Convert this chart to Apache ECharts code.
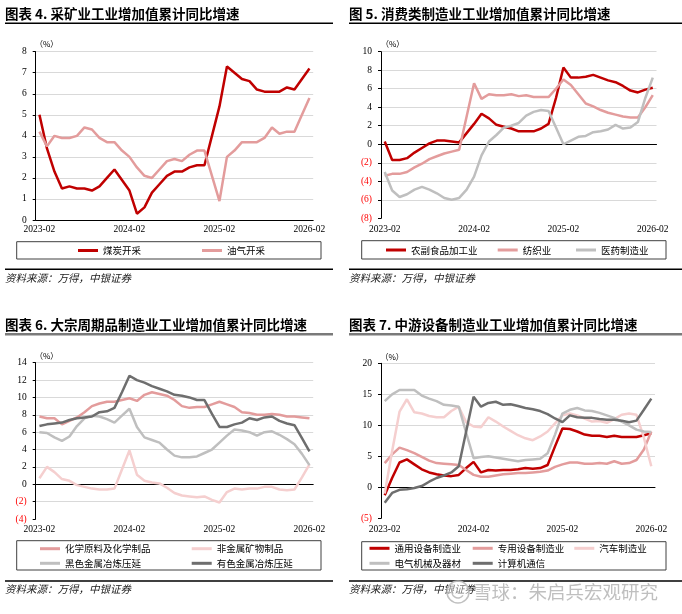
<!DOCTYPE html>
<html><head><meta charset="utf-8">
<script src="https://cdn.jsdelivr.net/npm/echarts@6/dist/echarts.min.js"></script>
<style>html,body{margin:0;padding:0;background:#fff}#c{width:682px;height:614px}</style>
</head><body><div id="c"></div>
<script>
// ---------- data ----------
const months = ['2023-02','2023-03','2023-04','2023-05','2023-06','2023-07','2023-08','2023-09','2023-10','2023-11','2023-12','2024-01',
 '2024-02','2024-03','2024-04','2024-05','2024-06','2024-07','2024-08','2024-09','2024-10','2024-11','2024-12','2025-01',
 '2025-02','2025-03','2025-04','2025-05','2025-06','2025-07','2025-08','2025-09','2025-10','2025-11','2025-12','2026-01','2026-02'];

// 图表4
const coal = [5.0,3.4,2.3,1.5,1.6,1.5,1.5,1.4,1.6,2.0,2.4,1.9,1.4,0.3,0.6,1.3,1.7,2.1,2.3,2.3,2.5,2.6,2.6,4.0,5.4,7.3,7.0,6.7,6.6,6.2,6.1,6.1,6.1,6.3,6.2,6.7,7.2];
const oilgas = [4.2,3.5,4.0,3.9,3.9,4.0,4.4,4.3,3.9,3.7,3.7,3.3,3.0,2.5,2.1,2.0,2.4,2.8,2.9,2.8,3.1,3.3,3.3,2.1,0.9,3.0,3.3,3.7,3.7,3.7,3.9,4.4,4.1,4.2,4.2,5.0,5.8];
// 图5
const food = [0.3,-1.7,-1.7,-1.5,-0.9,-0.4,0.1,0.4,0.4,0.3,0.2,1.2,2.2,3.3,2.8,2.1,1.9,1.7,1.4,1.4,1.4,1.7,2.2,5.0,8.3,7.2,7.2,7.3,7.5,7.2,6.9,6.7,6.3,5.8,5.6,5.9,6.1];
const textile = [-3.4,-3.2,-3.2,-3.0,-2.5,-2.1,-1.6,-1.3,-1.0,-0.8,-0.6,3.0,6.6,4.9,5.4,5.3,5.3,5.4,5.2,5.3,5.1,5.1,5.1,6.0,7.0,6.4,5.4,4.4,4.1,3.7,3.4,3.2,3.0,2.9,2.9,4.0,5.3];
const pharma = [-3.0,-5.0,-5.7,-5.4,-4.9,-4.6,-4.9,-5.3,-5.8,-6.0,-5.8,-4.9,-3.5,-1.2,0.3,1.0,1.8,2.0,2.3,3.1,3.5,3.7,3.6,1.8,0.0,0.4,0.8,0.9,1.3,1.4,1.6,2.1,1.7,1.8,2.4,5.0,7.2];
// 图表6
const chem = [7.8,7.6,7.6,6.9,7.3,7.7,8.3,9.0,9.3,9.5,9.5,9.7,9.9,9.6,10.3,10.6,10.4,10.2,9.7,9.0,8.8,8.9,8.9,9.2,9.5,9.2,8.9,8.3,8.2,8.0,8.0,8.1,8.0,7.8,7.8,7.7,7.6];
const nonmetal = [0.7,2.0,1.4,0.6,0.4,-0.1,-0.3,-0.5,-0.6,-0.6,-0.5,1.7,3.9,1.1,0.4,0.2,0.1,-0.4,-1.0,-1.3,-1.4,-1.5,-1.4,-1.8,-2.1,-0.9,-0.5,-0.6,-0.5,-0.5,-0.3,-0.3,-0.6,-0.7,-0.6,0.8,2.3];
const ferrous = [6.0,5.9,5.4,5.0,5.5,6.7,7.6,7.9,7.8,7.5,7.1,7.9,8.7,6.6,5.4,5.1,4.8,4.0,3.3,3.1,3.1,3.2,3.6,4.0,4.8,5.6,6.3,6.2,6.0,5.6,6.0,6.1,5.7,5.2,4.6,3.5,2.2];
const nonferrous = [6.7,6.9,7.0,7.1,7.4,7.6,7.7,7.8,8.3,8.4,8.8,10.6,12.5,12.0,11.7,11.3,11.0,10.7,10.3,10.2,10.0,9.7,9.7,8.1,6.6,6.6,6.9,7.1,7.6,7.4,7.7,7.8,7.3,7.0,6.8,5.3,3.8];
// 图表7
const general = [-1.3,1.5,4.0,4.5,3.7,2.9,2.4,2.1,1.9,1.8,2.0,3.1,4.1,2.4,2.8,2.7,2.8,2.8,2.9,3.1,3.0,3.1,3.6,6.6,9.5,9.4,9.0,8.5,8.3,8.3,8.1,8.3,8.1,8.1,8.1,8.4,8.7];
const special = [3.9,5.3,6.4,6.0,5.5,4.9,4.3,3.9,3.8,3.7,3.6,2.8,2.0,1.7,1.7,1.9,2.1,2.2,2.3,2.3,2.4,2.5,2.7,3.3,3.7,4.0,4.0,3.8,3.8,3.9,3.8,4.2,3.8,3.9,4.4,6.1,9.0];
const auto = [-1.0,5.8,12.2,14.2,12.1,11.9,11.5,11.3,11.3,12.3,13.0,10.5,9.8,9.7,11.3,10.6,9.8,9.1,8.4,7.9,7.6,8.2,9.0,10.3,11.6,11.9,11.6,11.1,10.6,10.7,10.4,11.0,11.7,11.9,11.7,8.0,3.4];
const electrical = [13.9,15.0,15.7,15.7,15.7,14.8,14.3,13.9,13.3,13.2,13.0,8.8,4.7,4.9,5.0,4.8,4.6,4.4,4.2,4.4,4.5,4.6,5.5,8.5,11.9,12.5,12.8,12.4,12.3,12.0,11.6,11.2,10.6,10.0,9.3,9.0,8.9];
const computer = [-2.5,-0.9,-0.4,-0.3,-0.1,0.2,0.9,1.5,1.9,2.4,3.4,9.0,14.6,13.0,13.6,13.8,13.3,13.4,13.1,12.8,12.6,12.3,11.8,11.1,10.5,11.6,11.3,11.2,11.2,11.0,10.9,10.9,10.75,10.5,10.75,12.5,14.3];

// ---------- style ----------
const SERIF = '"Liberation Serif", "Noto Sans CJK SC", serif';
const CJK = '"Noto Sans CJK SC", sans-serif';
const RED = '#C00000', PINK = '#E39C9C', LPINK = '#F5CFCF', LGRAY = '#BFBFBF', DGRAY = '#6E6E6E';

const grids = [
  {left:35.7, top:51.7, width:277.5, height:168.3},
  {left:381, top:51.7, width:275.5, height:166.6},
  {left:35.7, top:362.7, width:277.5, height:156.3},
  {left:381, top:363.3, width:274, height:155}
];
const yCfg = [
  {min:0,max:8,interval:1},
  {min:-8,max:10,interval:2},
  {min:-4,max:14,interval:2},
  {min:-5,max:20,interval:5}
];

const labelStyle = {fontSize:9.5, fontFamily:SERIF, color:'#000'};
const xAxis = [], yAxis = [], axisIdx = [];
grids.forEach((g, gi) => {
  const base = {type:'category', gridIndex:gi, data:months, boundaryGap:true, position:'bottom'};
  if (gi === 0) {
    axisIdx.push(xAxis.length);
    xAxis.push(Object.assign({}, base, {
      axisLine:{lineStyle:{color:'#000', width:1}},
      axisTick:{interval:11, length:4, lineStyle:{color:'#000'}},
      axisLabel:Object.assign({interval:11, margin:5}, labelStyle)
    }));
  } else {
    axisIdx.push(xAxis.length);
    xAxis.push(Object.assign({}, base, {
      axisLine:{onZero:true, lineStyle:{color:'#000', width:1}},
      axisTick:{interval:11, length:4, lineStyle:{color:'#000'}},
      axisLabel:{show:false}
    }));
    xAxis.push(Object.assign({}, base, {
      axisLine:{show:false, onZero:false},
      axisTick:{show:false},
      axisLabel:Object.assign({interval:11, margin:6}, labelStyle)
    }));
  }
  yAxis.push({
    type:'value', gridIndex:gi, min:yCfg[gi].min, max:yCfg[gi].max, interval:yCfg[gi].interval,
    axisLine:{show:true, lineStyle:{color:'#000', width:1}},
    axisTick:{show:true, length:3, lineStyle:{color:'#000'}},
    axisLabel:{margin:9, fontSize:9.5, fontFamily:SERIF,
      formatter:v => (v < 0 ? '(' + (-v) + ')' : String(v)),
      color:v => (Number(v) < 0 ? '#FF0000' : '#000')},
    splitLine:{show:true, showMinLine:false, lineStyle:{color:'#D9D9D9', width:1}}
  });
});

function line(name, data, gi, color) {
  return {type:'line', name, data, xAxisIndex:axisIdx[gi], yAxisIndex:gi, symbol:'none',
    lineStyle:{width:2.5, color}, itemStyle:{color}, emphasis:{disabled:true}};
}
const series = [
  line('煤炭开采', coal, 0, RED),
  line('油气开采', oilgas, 0, PINK),
  line('农副食品加工业', food, 1, RED),
  line('纺织业', textile, 1, PINK),
  line('医药制造业', pharma, 1, LGRAY),
  line('化学原料及化学制品', chem, 2, PINK),
  line('非金属矿物制品', nonmetal, 2, LPINK),
  line('黑色金属冶炼压延', ferrous, 2, LGRAY),
  line('有色金属冶炼压延', nonferrous, 2, DGRAY),
  line('通用设备制造业', general, 3, RED),
  line('专用设备制造业', special, 3, PINK),
  line('汽车制造业', auto, 3, LPINK),
  line('电气机械及器材', electrical, 3, LGRAY),
  line('计算机通信', computer, 3, DGRAY)
];

// legend item placements [name, iconLeft, centerY]
const legendPos = [
  ['煤炭开采', 78, 250.5], ['油气开采', 202, 250.5],
  ['农副食品加工业', 386, 250], ['纺织业', 497.7, 250], ['医药制造业', 576, 250],
  ['化学原料及化学制品', 40, 548.7], ['非金属矿物制品', 191.7, 548.7],
  ['黑色金属冶炼压延', 40, 563.3], ['有色金属冶炼压延', 191.7, 563.3],
  ['通用设备制造业', 369.5, 548.3], ['专用设备制造业', 472.7, 548.3], ['汽车制造业', 574.3, 548.3],
  ['电气机械及器材', 369.5, 563.3], ['计算机通信', 472.7, 563.3]
];
const legend = legendPos.map(([n, x, cy]) => ({
  data:[n], left:x, top:cy - 6, padding:0, itemGap:0, itemWidth:20, itemHeight:3, icon:'rect',
  selectedMode:false, textStyle:{fontSize:9.5, fontFamily:CJK, color:'#000', lineHeight:12}
}));

// ---------- decorations ----------
const g = [];
function txt(t, x, y, font, fill, extra) {
  g.push(Object.assign({type:'text', x, y, silent:true,
    style:{text:t, font, fill:fill || '#000', textVerticalAlign:'middle', verticalAlign:'middle'}}, extra || {}));
}
function ln(x1, y1, x2, y2, stroke, w) {
  g.push({type:'line', silent:true, shape:{x1, y1, x2, y2}, style:{stroke, lineWidth:w}});
}
function box(x, y, w, h) {
  g.push({type:'rect', silent:true, shape:{x, y, width:w, height:h}, style:{fill:'none', stroke:'#404040', lineWidth:1}});
}
const TF = 'bold 13.5px "Noto Sans CJK SC", sans-serif';
txt('图表 4. 采矿业工业增加值累计同比增速', 5, 14, TF);
txt('图 5. 消费类制造业工业增加值累计同比增速', 349, 14, TF);
txt('图表 6. 大宗周期品制造业工业增加值累计同比增速', 5, 325, TF);
txt('图表 7. 中游设备制造业工业增加值累计同比增速', 349, 325, TF);
ln(5, 23.3, 333, 23.3, '#000', 1.5);
ln(349, 23.3, 682, 23.3, '#000', 1.5);
ln(5, 334.3, 333, 334.3, '#7a7a7a', 2.5);
ln(349, 334.3, 682, 334.3, '#7a7a7a', 2.5);

const PF = '8px "Noto Sans CJK SC", sans-serif';
txt('（%）', 35, 44, PF);
txt('（%）', 381, 44, PF);
txt('（%）', 35, 356, PF);
txt('（%）', 380.5, 356.5, PF);

box(16.7, 241.7, 304.3, 17.3);
box(361.7, 240.7, 304.3, 18.3);
box(16.7, 540.7, 304.3, 29.3);
box(361.7, 541.7, 304.3, 28.3);

ln(5, 269.3, 333, 269.3, '#000', 1.5);
ln(349, 269.3, 682, 269.3, '#000', 1.5);
ln(5, 581, 333, 581, '#000', 1.5);
ln(349, 581, 682, 581, '#000', 1.5);
const SF = 'italic 10.5px "Noto Sans CJK SC", sans-serif';
txt('资料来源：万得，中银证券', 5, 278, SF, '#222');
txt('资料来源：万得，中银证券', 349, 278, SF, '#222');
txt('资料来源：万得，中银证券', 5, 589, SF, '#222');
txt('资料来源：万得，中银证券', 349, 589, SF, '#222');

// watermark
g.push({type:'circle', silent:true, shape:{cx:458, cy:592, r:11}, style:{fill:'rgba(255,255,255,0.4)', stroke:'rgba(185,185,185,0.9)', lineWidth:1.5}});
g.push({type:'arc', silent:true, shape:{cx:458, cy:592, r:6, startAngle:0.6, endAngle:3.6}, style:{fill:'none', stroke:'rgba(185,185,185,0.9)', lineWidth:1.5}});
txt('雪球：朱启兵宏观研究', 473, 592, '18.5px "Noto Sans CJK SC", sans-serif', 'rgba(180,180,180,0.85)');

const chart = echarts.init(document.getElementById('c'), null, {renderer:'canvas'});
chart.setOption({
  animation:false,
  backgroundColor:'#fff',
  textStyle:{fontFamily:SERIF},
  grid:grids,
  xAxis, yAxis, series, legend,
  graphic:g
});
</script>
</body></html>
